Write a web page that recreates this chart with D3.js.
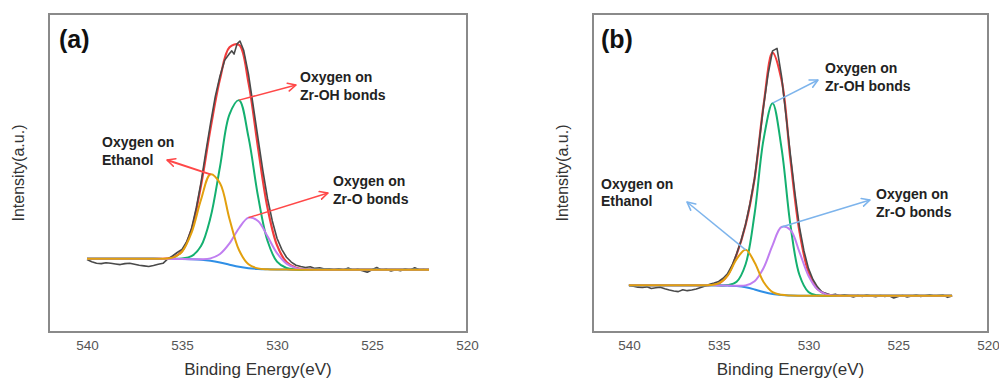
<!DOCTYPE html>
<html><head><meta charset="utf-8">
<script src="https://cdn.jsdelivr.net/npm/d3@7"></script>
<style>body{margin:0;background:#fff} svg{display:block}</style>
</head><body>
<svg id="chart" width="999" height="378"></svg>
<script>
// ---------------- DATA ----------------
const xTicks = [540, 535, 530, 525, 520];
const xTitle = "Binding Energy(eV)";
const yTitle = "Intensity(a.u.)";

// Fit curves sampled on an energy grid (eV)
const energyGrid = [540, 538, 537, 536.5, 536, 535.5, 535, 534.5, 534, 533.5, 533, 532.5, 532, 531.5, 531, 530.5, 530, 529.5, 529, 528.5, 528, 526, 524, 522];

// Panel (a)
const aBackground = [23.0, 23.0, 23.0, 23.0, 22.99, 22.97, 22.94, 22.86, 22.70, 22.38, 21.85, 21.16, 20.51, 20.07, 19.82, 19.70, 19.64, 19.62, 19.6, 19.6, 19.6, 19.6, 19.6, 19.6];
const aZrOH = [23.0, 23.0, 23.0, 23.0, 22.99, 22.99, 23.10, 23.84, 27.03, 35.98, 51.95, 68.46, 72.91, 61.27, 42.72, 28.68, 22.13, 20.11, 19.67, 19.6, 19.6, 19.6, 19.6, 19.6];
const aEthanol = [23.0, 23.0, 23.0, 23.0, 23.04, 23.38, 25.25, 31.17, 41.6, 49.58, 46.75, 35.56, 25.77, 21.29, 20.0, 19.72, 19.64, 19.62, 19.6, 19.6, 19.6, 19.6, 19.6, 19.6];
const aZrO = [23.0, 23.0, 23.0, 23.0, 22.99, 22.97, 22.94, 22.88, 22.86, 23.15, 24.53, 27.85, 32.63, 35.97, 34.92, 30.08, 24.81, 21.49, 20.09, 19.69, 19.61, 19.6, 19.6, 19.6];
const aEnvelope = [23.0, 23.0, 23.0, 23.0, 23.04, 23.40, 25.41, 32.17, 46.09, 63.95, 79.53, 89.55, 90.29, 78.39, 58.0, 39.08, 27.3, 21.98, 20.16, 19.69, 19.61, 19.6, 19.6, 19.6];

const aRawEnergy = [540, 539.75, 539.5, 539.25, 539, 538.75, 538.5, 538.25, 538, 537.75, 537.5, 537.25, 537, 536.75, 536.5, 536.25, 536, 535.75, 535.5, 535.25, 535, 534.75, 534.5, 534.25, 534, 533.75, 533.5, 533.25, 533, 532.75, 532.5, 532.38, 532.26, 532.1, 531.95, 531.75, 531.5, 531.25, 531, 530.75, 530.5, 530.25, 530, 529.75, 529.5, 529.25, 529, 528.75, 528.5, 528.25, 528, 527.75, 527.5, 527.25, 527, 526.75, 526.5, 526.25, 526, 525.75, 525.5, 525.25, 525, 524.75, 524.5, 524.25, 524, 523.75, 523.5, 523.25, 523, 522.75, 522.5, 522.25, 522];
const aRawIntensity = [22.8, 22.1, 21.6, 21.5, 21.8, 21.6, 21.4, 21.2, 21.5, 21.6, 21.3, 21.0, 20.8, 20.6, 20.9, 21.3, 21.6, 23.0, 23.9, 25.0, 26.0, 28.4, 32.5, 39.0, 47.0, 56.5, 65.5, 74.0, 80.5, 85.5, 87.6, 88.4, 87.4, 90.6, 91.5, 88.5, 81.0, 71.0, 61.0, 51.0, 42.0, 35.0, 29.5, 26.0, 23.5, 22.0, 21.0, 20.6, 20.3, 20.5, 20.0, 20.2, 19.8, 19.9, 19.6, 19.9, 19.5, 20.1, 19.4, 19.7, 19.3, 18.8, 19.6, 20.3, 19.4, 19.7, 19.2, 19.6, 19.3, 19.8, 19.4, 20.2, 19.5, 19.6, 19.4];

// Panel (b)
const bBackground = [14.7, 14.7, 14.7, 14.7, 14.69, 14.69, 14.66, 14.59, 14.43, 14.05, 13.38, 12.57, 11.95, 11.63, 11.49, 11.43, 11.41, 11.4, 11.4, 11.4, 11.4, 11.4, 11.4, 11.4];
const bZrOH = [14.7, 14.7, 14.7, 14.7, 14.69, 14.69, 14.67, 14.75, 15.80, 21.31, 37.18, 60.57, 71.95, 57.83, 33.49, 17.91, 12.58, 11.53, 11.41, 11.4, 11.4, 11.4, 11.4, 11.4];
const bEthanol = [14.7, 14.7, 14.7, 14.7, 14.69, 14.75, 15.27, 17.75, 22.92, 25.85, 21.87, 15.73, 12.56, 11.69, 11.49, 11.43, 11.41, 11.4, 11.4, 11.4, 11.4, 11.4, 11.4, 11.4];
const bZrO = [14.7, 14.7, 14.7, 14.7, 14.69, 14.69, 14.66, 14.60, 14.53, 14.66, 15.97, 20.14, 27.25, 33.03, 32.09, 25.13, 17.70, 13.40, 11.84, 11.47, 11.41, 11.4, 11.4, 11.4];
const bEnvelope = [14.7, 14.7, 14.7, 14.7, 14.69, 14.75, 15.28, 17.92, 24.39, 33.72, 48.26, 71.3, 87.86, 79.29, 54.09, 31.61, 18.87, 13.53, 11.85, 11.47, 11.41, 11.4, 11.4, 11.4];

const bRawEnergy = [540, 539.75, 539.5, 539.25, 539, 538.75, 538.5, 538.25, 538, 537.75, 537.5, 537.25, 537, 536.75, 536.5, 536.25, 536, 535.75, 535.5, 535.25, 535, 534.75, 534.5, 534.25, 534, 533.75, 533.5, 533.25, 533, 532.75, 532.5, 532.25, 532, 531.75, 531.5, 531.25, 531, 530.75, 530.5, 530.25, 530, 529.75, 529.5, 529.25, 529, 528.75, 528.5, 528.25, 528, 527.75, 527.5, 527.25, 527, 526.75, 526.5, 526.25, 526, 525.75, 525.5, 525.25, 525, 524.75, 524.5, 524.25, 524, 523.75, 523.5, 523.25, 523, 522.75, 522.5, 522.25, 522];
const bRawIntensity = [14.6, 14.4, 14.1, 14.0, 14.2, 13.7, 13.9, 14.1, 13.6, 13.2, 12.9, 12.7, 13.3, 13.0, 13.2, 13.5, 14.0, 14.5, 15.0, 15.4, 15.9, 16.9, 18.4, 21.0, 24.6, 28.8, 33.9, 40.5, 48.3, 59.5, 71.0, 81.0, 88.4, 89.2, 80.5, 68.0, 55.5, 43.5, 33.0, 25.5, 20.0, 16.5, 14.2, 12.6, 12.1, 11.6, 11.9, 11.3, 11.7, 11.4, 11.0, 11.5, 11.2, 11.6, 11.3, 11.1, 11.5, 11.2, 11.4, 10.7, 11.2, 11.5, 11.0, 11.3, 11.6, 11.2, 11.4, 11.7, 11.3, 11.5, 11.6, 10.9, 11.3];

const panelLabels = ["(a)", "(b)"];
const annotationLines = {
  ZrOH: ["Oxygen on", "Zr-OH bonds"],
  Ethanol: ["Oxygen on", "Ethanol"],
  ZrO: ["Oxygen on", "Zr-O bonds"]
};

// ---------------- STYLE / LAYOUT ----------------
const C = {
  frame: "#8a8a8a", raw: "#4a4a4a", env: "#f23c3c", bg: "#2f8fe6",
  zroh: "#14b070", eth: "#e2a00e", zro: "#c07ef0", text: "#222",
  tick: "#555", arrowRed: "#ff4848", arrowBlue: "#7db4ec"
};

const panels = [
  {
    label: panelLabels[0], left: 49, right: 467, top: 14, bottom: 332, yTitleX: 24,
    bg: aBackground, zroh: aZrOH, eth: aEthanol, zro: aZrO, env: aEnvelope,
    rawE: aRawEnergy, rawI: aRawIntensity, arrowColor: C.arrowRed, arrowId: "arrR",
    labelPos: [59, 48],
    notes: [
      {key: "ZrOH", comp: "zroh", tx: 300, ty: 82, ax: 296, ay: 85, w: 1.5},
      {key: "Ethanol", comp: "eth", tx: 102, ty: 147, ax: 167, ay: 160, w: 2},
      {key: "ZrO", comp: "zro", tx: 333, ty: 186, ax: 328, ay: 193, w: 1.5}
    ]
  },
  {
    label: panelLabels[1], left: 593, right: 988, top: 14, bottom: 332, yTitleX: 568,
    bg: bBackground, zroh: bZrOH, eth: bEthanol, zro: bZrO, env: bEnvelope,
    rawE: bRawEnergy, rawI: bRawIntensity, arrowColor: C.arrowBlue, arrowId: "arrB",
    labelPos: [601, 48],
    notes: [
      {key: "ZrOH", comp: "zroh", tx: 825, ty: 73, ax: 818, ay: 80, w: 1.5},
      {key: "Ethanol", comp: "eth", tx: 601, ty: 188.5, ax: 687, ay: 202, w: 1.5},
      {key: "ZrO", comp: "zro", tx: 876, ty: 199, ax: 870, ay: 200, w: 1.5}
    ]
  }
];

const svg = d3.select("#chart");
const defs = svg.append("defs");
function addMarker(id, color) {
  defs.append("marker").attr("id", id)
    .attr("viewBox", "0 0 10 10").attr("refX", 9).attr("refY", 5)
    .attr("markerWidth", 10).attr("markerHeight", 10)
    .attr("markerUnits", "userSpaceOnUse").attr("orient", "auto")
    .append("path").attr("d", "M1,1 L9,5 L1,9")
    .attr("fill", "none").attr("stroke", color).attr("stroke-width", 1.6)
    .attr("stroke-linecap", "round").attr("stroke-linejoin", "round");
}
addMarker("arrR", C.arrowRed);
addMarker("arrB", C.arrowBlue);

const FONT = "'Liberation Sans', Arial, Helvetica, sans-serif";

panels.forEach(p => {
  const x = d3.scaleLinear().domain([542, 520]).range([p.left, p.right]);
  const y = d3.scaleLinear().domain([0, 100]).range([p.bottom, p.top]);
  const g = svg.append("g");

  // frame
  g.append("rect").attr("x", p.left).attr("y", p.top)
    .attr("width", p.right - p.left).attr("height", p.bottom - p.top)
    .attr("fill", "none").attr("stroke", C.frame).attr("stroke-width", 2);

  // x axis labels
  const ax = g.append("g").attr("transform", `translate(0,${p.bottom})`)
    .call(d3.axisBottom(x).tickValues(xTicks).tickSize(0).tickPadding(8).tickFormat(d3.format("d")));
  ax.select(".domain").remove();
  ax.selectAll("text").attr("font-family", FONT).attr("font-size", 13.5).attr("fill", C.tick);

  // titles
  g.append("text").attr("x", (p.left + p.right) / 2).attr("y", 375)
    .attr("text-anchor", "middle").attr("font-family", FONT).attr("font-size", 17)
    .attr("fill", "#333").text(xTitle);
  g.append("text").attr("transform", `translate(${p.yTitleX},${(p.top + p.bottom) / 2}) rotate(-90)`)
    .attr("text-anchor", "middle").attr("font-family", FONT).attr("font-size", 16)
    .attr("fill", "#333").text(yTitle);

  // curves
  const smooth = d3.line().x(d => x(d[0])).y(d => y(d[1])).curve(d3.curveCatmullRom.alpha(0.5));
  const straight = d3.line().x(d => x(d[0])).y(d => y(d[1]));
  const pts = arr => energyGrid.map((e, i) => [e, arr[i]]);

  g.append("path").attr("d", smooth(pts(p.env))).attr("fill", "none")
    .attr("stroke", C.env).attr("stroke-width", 2.2);
  g.append("path").attr("d", straight(p.rawE.map((e, i) => [e, p.rawI[i]]))).attr("fill", "none")
    .attr("stroke", C.raw).attr("stroke-width", 1.6).attr("stroke-linejoin", "round");
  g.append("path").attr("d", smooth(pts(p.bg))).attr("fill", "none")
    .attr("stroke", C.bg).attr("stroke-width", 2);
  g.append("path").attr("d", smooth(pts(p.zroh))).attr("fill", "none")
    .attr("stroke", C.zroh).attr("stroke-width", 2);
  g.append("path").attr("d", smooth(pts(p.zro))).attr("fill", "none")
    .attr("stroke", C.zro).attr("stroke-width", 2);
  g.append("path").attr("d", smooth(pts(p.eth))).attr("fill", "none")
    .attr("stroke", C.eth).attr("stroke-width", 2);

  // panel label
  g.append("text").attr("x", p.labelPos[0]).attr("y", p.labelPos[1])
    .attr("font-family", FONT).attr("font-weight", "bold").attr("font-size", 25)
    .attr("fill", "#111").text(p.label);

  // annotations
  p.notes.forEach(n => {
    const arr = p[n.comp];
    const iMax = d3.maxIndex(arr);
    const sx = x(energyGrid[iMax]), sy = y(arr[iMax]);
    g.append("line").attr("x1", sx).attr("y1", sy).attr("x2", n.ax).attr("y2", n.ay)
      .attr("stroke", p.arrowColor).attr("stroke-width", n.w)
      .attr("marker-end", `url(#${p.arrowId})`);
    const t = g.append("text").attr("font-family", FONT).attr("font-weight", "bold")
      .attr("font-size", 14).attr("fill", C.text);
    annotationLines[n.key].forEach((ln, k) => {
      t.append("tspan").attr("x", n.tx).attr("y", n.ty + k * 17.5).text(ln);
    });
  });
});
</script>
</body></html>
